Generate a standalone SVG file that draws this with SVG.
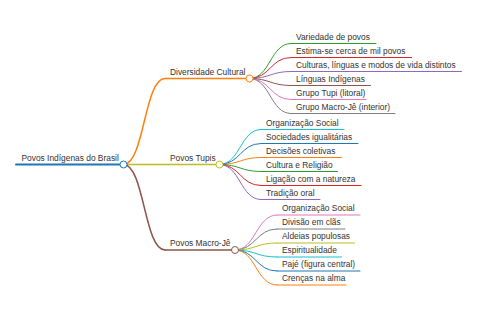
<svg xmlns="http://www.w3.org/2000/svg" width="480" height="320" viewBox="0 0 480 320">
<style>
text{font-family:"Liberation Sans",Arial,sans-serif;font-size:8.4px;fill:#333}
path,line{fill:none;stroke-linecap:round}
.l1{stroke-width:1.5}
.l2{stroke-width:1}
circle{fill:#fff;stroke-width:1}
</style>
<rect width="480" height="320" fill="#fff"/>
<g id="connectors">
<path class="l1" stroke="#ff7f0e" d="M123.5,164.5 C144.25,164.5 144.25,78.5 165,78.5"/>
<path class="l1" stroke="#bcbd22" d="M123.5,164.5 L165,164.5"/>
<path class="l1" stroke="#8c564b" d="M123.5,164.5 C144.25,164.5 144.25,250 165,250"/>
<path class="l2" stroke="#2ca02c" d="M249.5,78.5 C270.25,78.5 270.25,43.5 291,43.5"/>
<path class="l2" stroke="#d62728" d="M249.5,78.5 C270.25,78.5 270.25,57.5 291,57.5"/>
<path class="l2" stroke="#9467bd" d="M249.5,78.5 C270.25,78.5 270.25,71.5 291,71.5"/>
<path class="l2" stroke="#8c564b" d="M249.5,78.5 C270.25,78.5 270.25,85.5 291,85.5"/>
<path class="l2" stroke="#e377c2" d="M249.5,78.5 C270.25,78.5 270.25,99.5 291,99.5"/>
<path class="l2" stroke="#7f7f7f" d="M249.5,78.5 C270.25,78.5 270.25,113.5 291,113.5"/>
<path class="l2" stroke="#17becf" d="M219.5,164.5 C240.25,164.5 240.25,129.5 261,129.5"/>
<path class="l2" stroke="#1f77b4" d="M219.5,164.5 C240.25,164.5 240.25,143.5 261,143.5"/>
<path class="l2" stroke="#ff7f0e" d="M219.5,164.5 C240.25,164.5 240.25,157.5 261,157.5"/>
<path class="l2" stroke="#2ca02c" d="M219.5,164.5 C240.25,164.5 240.25,171.5 261,171.5"/>
<path class="l2" stroke="#d62728" d="M219.5,164.5 C240.25,164.5 240.25,185.5 261,185.5"/>
<path class="l2" stroke="#9467bd" d="M219.5,164.5 C240.25,164.5 240.25,199.5 261,199.5"/>
<path class="l2" stroke="#e377c2" d="M235,250 C256,250 256,215 277,215"/>
<path class="l2" stroke="#7f7f7f" d="M235,250 C256,250 256,229 277,229"/>
<path class="l2" stroke="#bcbd22" d="M235,250 C256,250 256,243 277,243"/>
<path class="l2" stroke="#17becf" d="M235,250 C256,250 256,257 277,257"/>
<path class="l2" stroke="#1f77b4" d="M235,250 C256,250 256,271 277,271"/>
<path class="l2" stroke="#ff7f0e" d="M235,250 C256,250 256,285 277,285"/>
</g>
<g id="root"><line x1="16" y1="164.5" x2="123.5" y2="164.5" stroke="#1f77b4" stroke-width="2"/><text x="21.5" y="160.5">Povos Indígenas do Brasil</text><circle cx="123.5" cy="164.5" r="3.5" stroke="#1f77b4"/></g>
<g id="diversidade"><line class="l1" x1="165" y1="78.5" x2="249.5" y2="78.5" stroke="#ff7f0e"/><text x="170" y="74.5">Diversidade Cultural</text><circle cx="249.5" cy="78.5" r="3.5" stroke="#ff7f0e"/></g>
<g id="d1"><line class="l2" x1="291" y1="43.5" x2="376" y2="43.5" stroke="#2ca02c"/><text x="296" y="39.5">Variedade de povos</text></g>
<g id="d2"><line class="l2" x1="291" y1="57.5" x2="411.5" y2="57.5" stroke="#d62728"/><text x="296" y="53.5">Estima-se cerca de mil povos</text></g>
<g id="d3"><line class="l2" x1="291" y1="71.5" x2="461.5" y2="71.5" stroke="#9467bd"/><text x="296" y="67.5">Culturas, línguas e modos de vida distintos</text></g>
<g id="d4"><line class="l2" x1="291" y1="85.5" x2="370.5" y2="85.5" stroke="#8c564b"/><text x="296" y="81.5">Línguas Indígenas</text></g>
<g id="d5"><line class="l2" x1="291" y1="99.5" x2="366" y2="99.5" stroke="#e377c2"/><text x="296" y="95.5">Grupo Tupi (litoral)</text></g>
<g id="d6"><line class="l2" x1="291" y1="113.5" x2="395" y2="113.5" stroke="#7f7f7f"/><text x="296" y="109.5">Grupo Macro-Jê (interior)</text></g>
<g id="tupis"><line class="l1" x1="165" y1="164.5" x2="219.5" y2="164.5" stroke="#bcbd22"/><text x="170" y="160.5">Povos Tupis</text><circle cx="219.5" cy="164.5" r="3.5" stroke="#bcbd22"/></g>
<g id="t1"><line class="l2" x1="261" y1="129.5" x2="344" y2="129.5" stroke="#17becf"/><text x="266" y="125.5">Organização Social</text></g>
<g id="t2"><line class="l2" x1="261" y1="143.5" x2="358" y2="143.5" stroke="#1f77b4"/><text x="266" y="139.5">Sociedades igualitárias</text></g>
<g id="t3"><line class="l2" x1="261" y1="157.5" x2="341.5" y2="157.5" stroke="#ff7f0e"/><text x="266" y="153.5">Decisões coletivas</text></g>
<g id="t4"><line class="l2" x1="261" y1="171.5" x2="337.5" y2="171.5" stroke="#2ca02c"/><text x="266" y="167.5">Cultura e Religião</text></g>
<g id="t5"><line class="l2" x1="261" y1="185.5" x2="361" y2="185.5" stroke="#d62728"/><text x="266" y="181.5">Ligação com a natureza</text></g>
<g id="t6"><line class="l2" x1="261" y1="199.5" x2="320" y2="199.5" stroke="#9467bd"/><text x="266" y="195.5">Tradição oral</text></g>
<g id="macroje"><line class="l1" x1="165" y1="250" x2="235" y2="250" stroke="#8c564b"/><text x="170" y="246">Povos Macro-Jê</text><circle cx="235" cy="250" r="3.5" stroke="#8c564b"/></g>
<g id="m1"><line class="l2" x1="277" y1="215" x2="360" y2="215" stroke="#e377c2"/><text x="282" y="211">Organização Social</text></g>
<g id="m2"><line class="l2" x1="277" y1="229" x2="345" y2="229" stroke="#7f7f7f"/><text x="282" y="225">Divisão em clãs</text></g>
<g id="m3"><line class="l2" x1="277" y1="243" x2="354.5" y2="243" stroke="#bcbd22"/><text x="282" y="239">Aldeias populosas</text></g>
<g id="m4"><line class="l2" x1="277" y1="257" x2="341.5" y2="257" stroke="#17becf"/><text x="282" y="253">Espiritualidade</text></g>
<g id="m5"><line class="l2" x1="277" y1="271" x2="360" y2="271" stroke="#1f77b4"/><text x="282" y="267">Pajé (figura central)</text></g>
<g id="m6"><line class="l2" x1="277" y1="285" x2="346" y2="285" stroke="#ff7f0e"/><text x="282" y="281">Crenças na alma</text></g>
</svg>
